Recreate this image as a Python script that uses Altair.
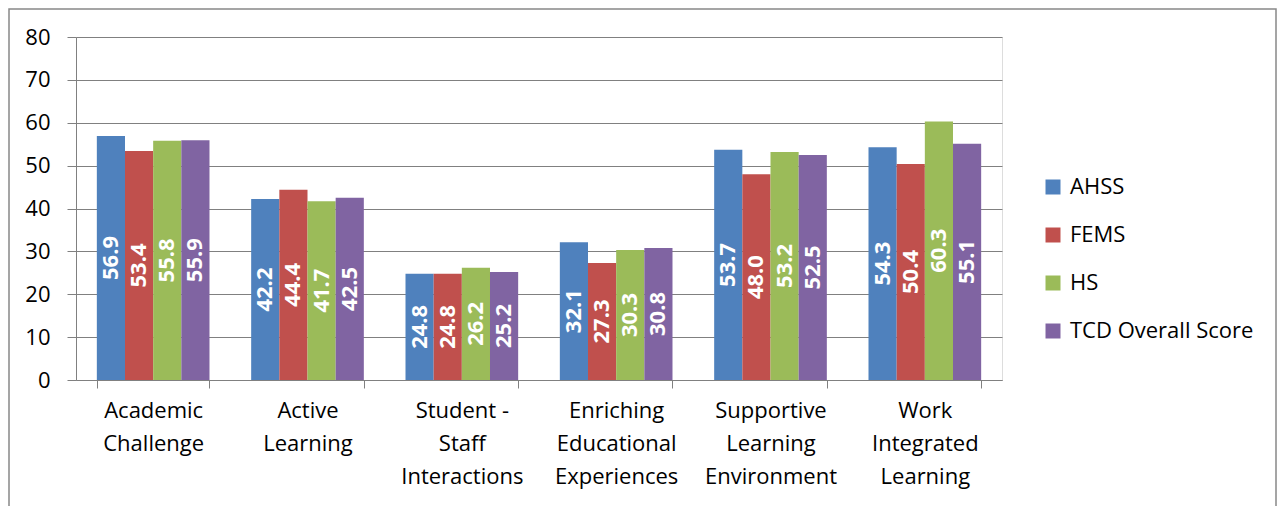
import altair as alt
import pandas as pd

categories = [
    "Academic\nChallenge",
    "Active\nLearning",
    "Student -\nStaff\nInteractions",
    "Enriching\nEducational\nExperiences",
    "Supportive\nLearning\nEnvironment",
    "Work\nIntegrated\nLearning",
]
series = ["AHSS", "FEMS", "HS", "TCD Overall Score"]
colors = ["#4F81BD", "#C0504D", "#9BBB59", "#8064A2"]

ahss = [56.9, 42.2, 24.8, 32.1, 53.7, 54.3]
fems = [53.4, 44.4, 24.8, 27.3, 48.0, 50.4]
hs = [55.8, 41.7, 26.2, 30.3, 53.2, 60.3]
tcd = [55.9, 42.5, 25.2, 30.8, 52.5, 55.1]

rows = []
for s, vals in zip(series, [ahss, fems, hs, tcd]):
    for c, v in zip(categories, vals):
        rows.append({"category": c, "series": s, "value": v})
df = pd.DataFrame(rows)

FONT = "Open Sans"
GRID = "#808080"

x_enc = alt.X(
    "category:N",
    sort=categories,
    title=None,
    scale=alt.Scale(paddingInner=0.27, paddingOuter=0.135),
    axis=alt.Axis(
        labelAngle=0,
        labelExpr="split(datum.label, '\\n')",
        labelFontSize=22,
        labelLineHeight=33,
        labelPadding=12,
        labelColor="#000000",
        labelFont=FONT,
        labelBaseline="top",
        labelLimit=0,
        tickBand="extent",
        tickSize=8,
        tickColor=GRID,
        domainColor=GRID,
        grid=False,
    ),
)
xo_enc = alt.XOffset("series:N", sort=series, scale=alt.Scale(paddingInner=0, paddingOuter=0))

bars = alt.Chart(df).mark_bar().encode(
    x=x_enc,
    xOffset=xo_enc,
    y=alt.Y(
        "value:Q",
        title=None,
        scale=alt.Scale(domain=[0, 80], nice=False),
        axis=alt.Axis(
            values=[0, 10, 20, 30, 40, 50, 60, 70, 80],
            labelFontSize=22,
            labelFont=FONT,
            labelColor="#000000",
            labelPadding=17,
            tickSize=9,
            tickColor=GRID,
            domainColor=GRID,
            gridColor=GRID,
            gridWidth=1,
        ),
    ),
    color=alt.Color(
        "series:N",
        sort=series,
        scale=alt.Scale(domain=series, range=colors),
        legend=alt.Legend(
            title=None,
            orient="none",
            legendX=966,
            legendY=139,
            padding=0,
            symbolType="square",
            symbolSize=225,
            symbolStrokeWidth=0,
            labelFontSize=22,
            labelFont=FONT,
            labelColor="#000000",
            labelOffset=6,
            labelLimit=0,
            rowPadding=26,
        ),
    ),
)

labels = alt.Chart(df).transform_calculate(
    mid="datum.value / 2"
).mark_text(
    angle=270, align="center", baseline="middle", color="white",
    fontWeight="bold", fontSize=22, font=FONT,
).encode(
    x=x_enc,
    xOffset=xo_enc,
    y=alt.Y("mid:Q"),
    text=alt.Text("value:Q", format=".1f"),
)

frame = alt.Chart(pd.DataFrame({"a": [0]})).mark_rect(
    filled=False, color="#888888", strokeWidth=1.5
).encode(
    x=alt.value(-67), x2=alt.value(1200), y=alt.value(-28), y2=alt.value(480)
)

chart = alt.layer(frame, bars, labels).properties(
    width=926,
    height=343,
    padding={"left": 68, "top": 29, "right": 275, "bottom": 126},
    autosize=alt.AutoSizeParams(type="none"),
).configure_view(stroke=None).configure(background="white")

chart.save("out.html", embed_options={"renderer": "svg", "actions": False})
